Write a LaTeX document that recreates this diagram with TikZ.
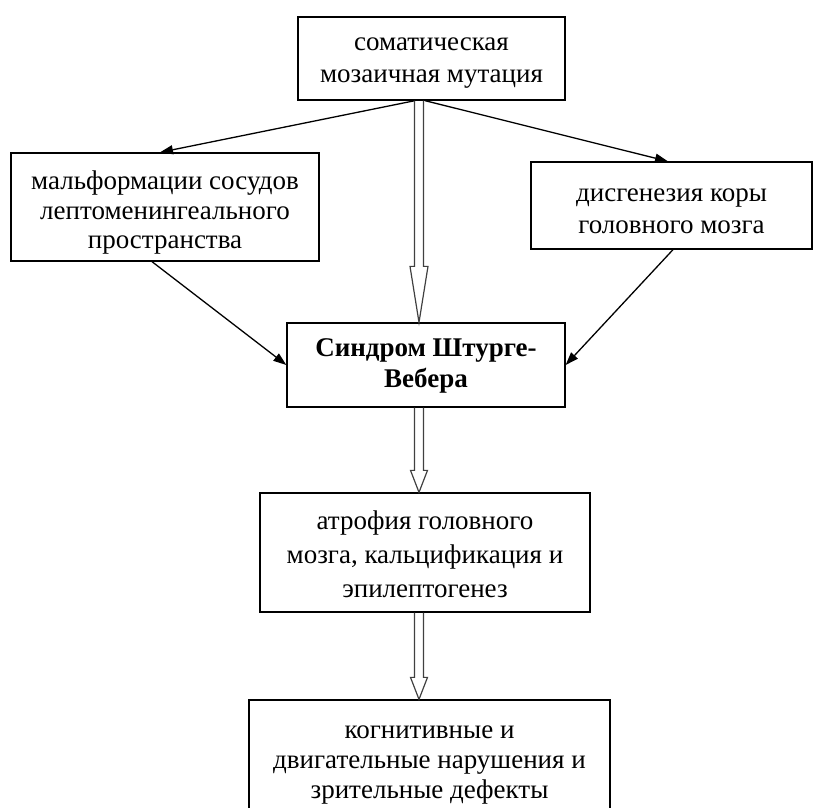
\documentclass[tikz,border=0pt]{standalone}
\usepackage{fontspec}
\setmainfont{Liberation Serif}
\usetikzlibrary{arrows.meta,calc}
\begin{document}
\begin{tikzpicture}[x=1pt,y=-1pt,
  box/.style={draw,line width=1.3pt,inner sep=0pt},
  txt/.style={align=center,inner sep=0pt,font=\fontsize{27}{30.5}\selectfont},
  thinarrow/.style={line width=1.3pt,-{Triangle[length=13pt,width=9pt]}},
  hollow/.style={line width=1.2pt,draw=black!75,line join=miter}]
\useasboundingbox (0,0) rectangle (814,808);
\clip (0,0) rectangle (814,808);
% boxes
\node[box,minimum width=267pt,minimum height=83pt] (top) at (431.5,58.5) {};
\node[box,minimum width=308pt,minimum height=108pt] (left) at (165,207) {};
\node[box,minimum width=281pt,minimum height=87pt] (right) at (671.5,205.5) {};
\node[box,minimum width=278pt,minimum height=84pt] (cen) at (426,365) {};
\node[box,minimum width=330pt,minimum height=119pt] (atr) at (425,552.5) {};
\node[box,minimum width=361pt,minimum height=120pt] (bot) at (429.5,760) {};
% texts
\node[txt,font=\fontsize{27}{32}\selectfont] (topt) at ($(top.center)+(0,5)$) {соматическая\\мозаичная мутация};
\node[txt,font=\fontsize{27}{29.5}\selectfont] (leftt) at ($(left.center)+(0,6)$) {мальформации сосудов\\лептоменингеального\\пространства};
\node[txt,font=\fontsize{27}{32}\selectfont] (rightt) at ($(right.center)+(0,6)$) {дисгенезия коры\\головного мозга};
\node[txt,font=\fontsize{27}{31}\selectfont\bfseries] (cent) at ($(cen.center)+(0,1)$) {Синдром Штурге-\\Вебера};
\node[txt,font=\fontsize{27}{34}\selectfont] (atrt) at ($(atr.center)+(0,2)$) {атрофия головного\\мозга, кальцификация и\\эпилептогенез};
\node[txt,font=\fontsize{27}{30}\selectfont] (bott) at ($(bot.center)+(0,5)$) {когнитивные и\\двигательные нарушения и\\зрительные дефекты};
\coordinate (ax) at (419,0);
\coordinate (lfrom) at (415,0);
\coordinate (rfrom) at (425,0);
\coordinate (lto) at (160,0);
\coordinate (rto) at (668,0);
\coordinate (lbot) at (152,0);
\coordinate (rbot) at (673,0);
% thin arrows
\draw[thinarrow] (top.south -| lfrom) -- (left.north -| lto);
\draw[thinarrow] (top.south -| rfrom) -- (right.north -| rto);
\draw[thinarrow] (left.south -| lbot) -- (cen.west);
\draw[thinarrow] (right.south -| rbot) -- (cen.east);
% hollow arrows
\draw[hollow] ($(top.south -| ax)+(-4.5,0)$) -- ($(cen.north -| ax)+(-4.5,-56)$) -- ++(-4.5,0) -- (cen.north -| ax) -- ($(cen.north -| ax)+(9,-56)$) -- ++(-4.5,0) -- ($(top.south -| ax)+(4.5,0)$);
\draw[hollow] ($(cen.south -| ax)+(-4.5,0)$) -- ($(atr.north -| ax)+(-4.5,-22)$) -- ++(-4,0) -- (atr.north -| ax) -- ($(atr.north -| ax)+(8.5,-22)$) -- ++(-4,0) -- ($(cen.south -| ax)+(4.5,0)$);
\draw[hollow] ($(atr.south -| ax)+(-4.5,0)$) -- ($(bot.north -| ax)+(-4.5,-22)$) -- ++(-4,0) -- (bot.north -| ax) -- ($(bot.north -| ax)+(8.5,-22)$) -- ++(-4,0) -- ($(atr.south -| ax)+(4.5,0)$);
\end{tikzpicture}
\end{document}
